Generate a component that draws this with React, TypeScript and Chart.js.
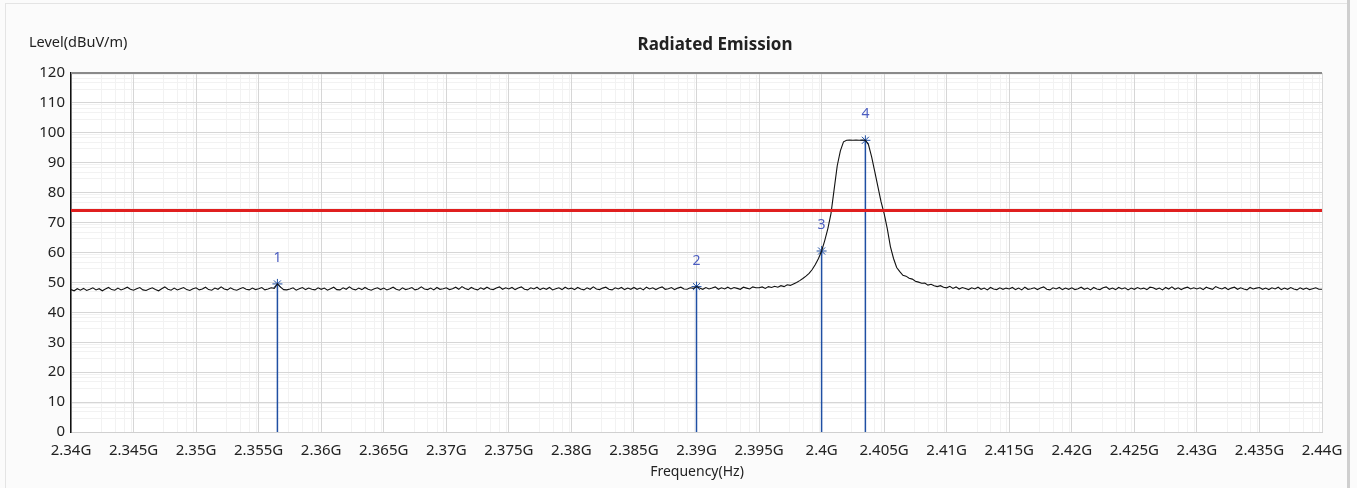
import React, { useEffect, useRef } from "react";
import { Chart, registerables } from "chart.js";

Chart.register(...registerables);

// Frequency sweep (MHz): start, step
const sweepStartMHz = 2340;
const sweepStepMHz = 0.25;

// Measured level (dBuV/m), one value per sweep point
const levels: number[] = [
  47.6,47.2,47.9,47.4,48.0,47.3,47.7,48.2,47.5,47.9,47.2,47.8,48.3,47.6,47.4,48.1,47.5,47.9,48.4,47.7,
  47.4,47.9,48.3,47.5,47.3,47.8,48.2,47.6,47.2,47.9,48.5,47.7,47.4,48.1,47.5,47.9,48.3,47.6,47.3,47.9,
  48.2,47.5,47.8,48.4,47.6,47.4,48.1,47.7,48.5,47.8,47.5,48.2,47.6,47.4,47.9,48.3,47.7,47.5,48.1,47.6,
  47.9,48.3,47.5,47.8,48.2,48.0,49.5,48.4,47.6,47.5,47.8,48.2,47.4,47.9,48.3,47.6,48.1,47.7,47.5,48.2,
  47.7,48.1,47.4,47.9,48.4,47.6,47.5,48.2,47.7,48.5,47.8,47.5,48.1,47.6,48.3,47.7,47.4,47.9,48.2,47.6,
  48.1,47.5,47.9,48.4,47.7,47.4,48.2,47.6,47.9,48.3,47.5,47.8,48.5,47.8,47.6,48.1,47.5,48.3,47.7,47.9,
  48.2,47.6,47.9,48.4,47.7,48.6,48.0,47.6,48.3,47.8,47.5,48.2,47.7,48.4,47.8,47.6,48.1,48.5,47.7,48.2,
  47.8,48.3,47.6,48.1,48.5,47.7,47.5,48.2,47.8,48.4,47.6,48.1,47.7,48.3,47.5,47.9,48.2,47.6,48.4,47.8,
  48.1,47.6,48.3,47.8,47.5,48.2,47.7,48.5,47.8,47.6,48.1,48.4,47.7,47.5,48.2,47.8,48.3,47.6,48.1,47.7,
  48.3,47.7,48.1,47.5,48.4,47.8,48.2,47.6,48.1,48.5,47.7,47.9,48.3,47.6,48.1,48.4,47.8,47.7,48.2,48.0,
  48.6,48.1,47.7,48.3,47.8,48.1,48.5,47.7,48.2,47.8,48.4,47.8,48.3,48.0,47.7,48.4,48.1,47.8,48.5,48.2,
  48.2,48.5,48.0,48.6,48.3,48.7,48.4,48.9,48.6,49.2,49.0,49.5,50.0,50.6,51.3,52.1,53.0,54.3,56.0,58.0,
  60.5,64.0,68.0,73.0,81.0,89.0,94.0,97.0,97.5,97.6,97.5,97.6,97.5,97.6,97.5,96.0,92.0,87.0,82.0,77.0,
  73.0,68.0,62.0,58.0,55.0,53.6,52.4,52.1,51.4,51.1,50.4,50.1,49.7,49.8,49.1,49.4,48.9,48.6,48.9,48.4,
  48.2,48.7,48.0,48.5,47.8,48.3,48.0,47.6,48.2,47.8,48.4,47.7,48.1,47.5,48.3,47.8,47.6,48.2,47.7,48.1,
  47.8,48.3,47.6,48.1,47.5,48.4,47.7,47.9,48.2,47.6,48.1,48.5,47.7,47.5,48.2,47.8,48.3,47.6,48.1,47.7,
  48.2,47.6,47.9,48.4,47.7,48.1,47.5,48.3,47.8,47.6,48.2,48.5,47.7,48.1,47.6,48.3,47.8,48.2,47.5,48.1,
  47.7,48.3,47.8,48.1,47.6,48.4,48.2,47.7,48.1,47.5,48.3,47.8,48.5,47.7,48.2,47.6,48.1,48.4,47.8,48.2,
  47.8,48.2,47.6,48.4,48.0,47.7,48.6,48.1,47.8,48.3,47.6,48.1,48.4,47.7,48.2,47.8,47.5,48.3,47.8,48.1,
  48.3,47.7,48.1,47.6,48.2,47.8,48.4,47.6,48.1,47.7,48.3,47.8,47.5,48.2,47.7,48.1,47.6,47.9,48.2,47.7,
  47.7,
];

// Limit line
const limitLevel = 74;
const limitSpanMHz = [2340, 2440];

// Markers
const markerNames = ["1", "2", "3", "4"];
const markerFreqsMHz = [2356.5, 2390, 2400, 2403.5];
const markerLevels = [49.5, 48.6, 60.5, 97.5];

// Axes
const xMin = 2340, xMax = 2440, xStep = 5;
const yMin = 0, yMax = 120, yStep = 10;
const chartTitle = "Radiated Emission";
const yTitle = "Level(dBuV/m)";
const xTitle = "Frequency(Hz)";

const FONT = "'Noto Sans', 'DejaVu Sans', sans-serif";
const MARKER_BLUE = "#1f4fa3";

export default function App() {
  const ref = useRef<HTMLCanvasElement | null>(null);

  useEffect(() => {
    if (!ref.current) return;
    const trace = levels.map((v, i) => ({ x: sweepStartMHz + i * sweepStepMHz, y: v }));

    const framePlugin = {
      id: "frame",
      beforeDraw(chart: any) {
        const { ctx, chartArea: a, width, height } = chart;
        ctx.save();
        ctx.fillStyle = "#fbfbfb";
        ctx.fillRect(0, 0, width, height);
        ctx.strokeStyle = "#e4e4e4";
        ctx.lineWidth = 1;
        ctx.strokeRect(5.5, 3.5, 1342, 490);
        ctx.fillStyle = "#cfcfcf";
        ctx.fillRect(1347, 0, 3, height);
        ctx.fillStyle = "#ffffff";
        ctx.fillRect(a.left, a.top, a.right - a.left, a.bottom - a.top);
        // minor grid (log-style subdivisions)
        const xs = chart.scales.x, ys = chart.scales.y;
        ctx.strokeStyle = "#f2f2f2";
        ctx.lineWidth = 1;
        ctx.beginPath();
        for (let v = xMin; v < xMax; v += xStep) {
          for (let k = 3; k <= 9; k += 2) {
            const px = Math.round(xs.getPixelForValue(v + xStep * Math.log10(k))) + 0.5;
            ctx.moveTo(px, a.top);
            ctx.lineTo(px, a.bottom);
          }
        }
        for (let v = yMin; v < yMax; v += yStep) {
          for (let k = 3; k <= 9; k += 2) {
            const py = Math.round(ys.getPixelForValue(v + yStep * Math.log10(k))) + 0.5;
            ctx.moveTo(a.left, py);
            ctx.lineTo(a.right, py);
          }
        }
        ctx.stroke();
        ctx.restore();
      },
      afterDraw(chart: any) {
        const { ctx, chartArea: a } = chart;
        ctx.save();
        ctx.strokeStyle = "#8a8a8a";
        ctx.lineWidth = 2;
        ctx.beginPath();
        ctx.moveTo(a.left, a.top);
        ctx.lineTo(a.right, a.top);
        ctx.stroke();
        ctx.strokeStyle = "#d8d8d8";
        ctx.lineWidth = 1;
        ctx.beginPath();
        ctx.moveTo(a.right + 0.5, a.top);
        ctx.lineTo(a.right + 0.5, a.bottom);
        ctx.stroke();
        ctx.fillStyle = "#222";
        ctx.textBaseline = "middle";
        ctx.textAlign = "center";
        ctx.font = `bold 17px ${FONT}`;
        ctx.fillText(chartTitle, 715, 45);
        ctx.font = `14.5px ${FONT}`;
        ctx.textAlign = "left";
        ctx.fillText(yTitle, 29, 43);
        ctx.textAlign = "center";
        ctx.font = `14px ${FONT}`;
        ctx.fillText(xTitle, 697, 472);
        const xs = chart.scales.x, ys = chart.scales.y;
        ctx.fillStyle = "#4a5cc0";
        ctx.font = `14px ${FONT}`;
        markerNames.forEach((n, i) => {
          ctx.fillText(n, xs.getPixelForValue(markerFreqsMHz[i]), ys.getPixelForValue(markerLevels[i]) - 26);
        });
        ctx.restore();
      },
    };

    const markerSets = markerNames.map((n, i) => ({
      label: "Marker " + n,
      data: [
        { x: markerFreqsMHz[i], y: 0 },
        { x: markerFreqsMHz[i], y: markerLevels[i] },
      ],
      borderColor: MARKER_BLUE,
      borderWidth: 1.5,
      pointRadius: [0, 5],
      pointStyle: "star",
      pointBorderColor: MARKER_BLUE,
      pointBorderWidth: 1,
      fill: false,
    }));

    const chart = new Chart(ref.current, {
      type: "line",
      data: {
        datasets: [
          {
            label: "Limit",
            data: limitSpanMHz.map((x) => ({ x, y: limitLevel })),
            borderColor: "#e01f1f",
            borderWidth: 3,
            pointRadius: 0,
          },
          {
            label: "Level",
            data: trace,
            borderColor: "#111111",
            borderWidth: 1.1,
            pointRadius: 0,
            tension: 0,
          },
          ...markerSets,
        ] as any,
      },
      options: {
        animation: false,
        responsive: false,
        devicePixelRatio: 1,
        layout: { padding: { left: 0, top: 73, right: 35, bottom: 0 } },
        plugins: { legend: { display: false }, title: { display: false }, tooltip: { enabled: false } },
        scales: {
          x: {
            type: "linear",
            min: xMin,
            max: xMax,
            afterFit(s: any) { s.height = 56; },
            ticks: {
              stepSize: xStep,
              padding: 10,
              color: "#222",
              font: { family: FONT, size: 15 },
              maxRotation: 0,
              autoSkip: false,
              callback: (v: any) => `${Number(v) / 1000}G`,
            },
            grid: { color: "#d6d6d6", drawTicks: false },
            border: { color: "#d0d0d0" },
          },
          y: {
            type: "linear",
            min: yMin,
            max: yMax,
            afterFit(s: any) { s.width = 71; },
            ticks: {
              stepSize: yStep,
              padding: 6,
              color: "#222",
              font: { family: FONT, size: 15 },
            },
            grid: { color: "#d6d6d6", drawTicks: false },
            border: { color: "#111", width: 1.5 },
          },
        },
      } as any,
      plugins: [framePlugin],
    });
    return () => chart.destroy();
  }, []);

  return (
    <div style={{ position: "fixed", left: 0, top: 0, width: 1357, height: 488 }}>
      <canvas ref={ref} width={1357} height={488} style={{ width: 1357, height: 488, display: "block" }} />
    </div>
  );
}
